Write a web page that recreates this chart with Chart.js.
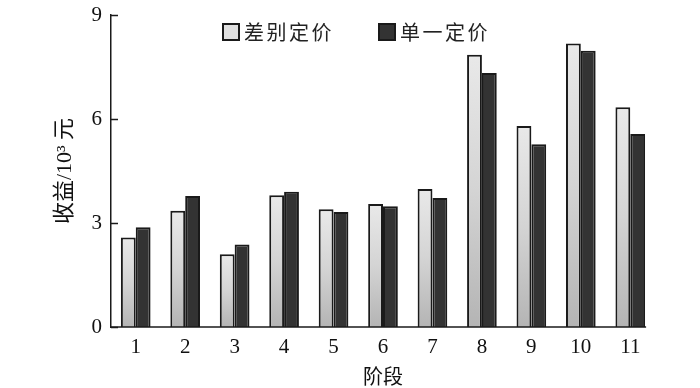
<!DOCTYPE html>
<html>
<head>
<meta charset="utf-8">
<script src="https://cdn.jsdelivr.net/npm/chart.js@4.4.0/dist/chart.umd.min.js"></script>
<style>
  html, body { margin: 0; padding: 0; background: #fff; }
  #wrap { width: 700px; height: 388px; }
</style>
</head>
<body>
<div id="wrap"><canvas id="chart"></canvas></div>
<script>
// data
const stages = ['1', '2', '3', '4', '5', '6', '7', '8', '9', '10', '11'];
const diffPrice = [2.58, 3.35, 2.10, 3.80, 3.40, 3.55, 3.98, 7.85, 5.80, 8.18, 6.34];
const singlePrice = [2.88, 3.78, 2.38, 3.90, 3.32, 3.48, 3.72, 7.33, 5.27, 7.97, 5.57];
const yTicks = [0, 3, 6, 9];

const serif = '"Liberation Serif", "Noto Sans CJK SC", serif';

// light bars fade from pale at the top to mid grey at the base
function lightFill(ctx) {
  const chart = ctx.chart;
  const y = chart.scales.y;
  if (!chart.chartArea || !y || ctx.raw == null) return '#d6d6d6';
  const top = y.getPixelForValue(ctx.raw);
  const g = chart.ctx.createLinearGradient(0, top, 0, y.getPixelForValue(0));
  g.addColorStop(0, '#e9e9e9');
  g.addColorStop(0.5, '#d4d4d4');
  g.addColorStop(1, '#b4b4b4');
  return g;
}

// axis lines, inward ticks and legend inside the plot
const decor = {
  id: 'decor',
  afterDatasetsDraw(chart) {
    const c = chart.ctx;
    const area = chart.chartArea;
    const y = chart.scales.y;
    c.save();
    c.strokeStyle = '#1a1a1a';
    c.lineWidth = 1.5;
    // x axis line stops at the last bar
    const bars = chart.getDatasetMeta(1).data;
    const last = bars[bars.length - 1];
    const endX = last.x + last.width / 2 + 1;
    c.beginPath();
    c.moveTo(area.left, y.getPixelForValue(0));
    c.lineTo(endX, y.getPixelForValue(0));
    c.stroke();
    // y axis ticks pointing in
    yTicks.forEach(v => {
      const py = Math.round(y.getPixelForValue(v)) + 0.5;
      c.beginPath();
      c.moveTo(area.left, py);
      c.lineTo(area.left + 7, py);
      c.stroke();
    });
    // legend
    const items = [
      { label: chart.data.datasets[0].label, fill: '#e0e0e0', x: 223 },
      { label: chart.data.datasets[1].label, fill: '#333333', x: 379 }
    ];
    c.font = '20px "Noto Sans CJK SC", sans-serif';
    c.textBaseline = 'middle';
    c.textAlign = 'left';
    if ('letterSpacing' in c) c.letterSpacing = '2.5px';
    items.forEach(it => {
      c.fillStyle = it.fill;
      c.lineWidth = 2;
      c.fillRect(it.x, 24, 16, 16);
      c.strokeRect(it.x, 24, 16, 16);
      c.fillStyle = '#222';
      c.fillText(it.label, it.x + 21, 32);
    });
    c.restore();
  }
};

new Chart(document.getElementById('chart'), {
  type: 'bar',
  data: {
    labels: stages,
    datasets: [
      {
        label: '差别定价',
        data: diffPrice,
        backgroundColor: lightFill,
        borderColor: '#1a1a1a',
        borderWidth: 2
      },
      {
        label: '单一定价',
        data: singlePrice,
        backgroundColor: '#333333',
        borderColor: '#1a1a1a',
        borderWidth: 2
      }
    ]
  },
  options: {
    responsive: true,
    maintainAspectRatio: false,
    animation: false,
    layout: { padding: { top: 15, right: 45, left: 0, bottom: 0 } },
    datasets: {
      bar: { categoryPercentage: 0.6, barPercentage: 1.0 }
    },
    plugins: {
      legend: { display: false },
      tooltip: { enabled: false }
    },
    scales: {
      x: {
        grid: { display: false, drawTicks: false },
        border: { display: false },
        ticks: { color: '#111', padding: 8, font: { family: serif, size: 21 } },
        title: {
          display: true,
          text: '阶段',
          color: '#111',
          padding: { top: 0, bottom: 0 },
          font: { family: '"Noto Sans CJK SC", sans-serif', size: 20 }
        },
        afterFit(s) { s.height = 61; s.paddingLeft = 0; s.paddingRight = 0; }
      },
      y: {
        min: 0,
        max: 9,
        afterBuildTicks(s) { s.ticks = yTicks.map(v => ({ value: v })); },
        grid: { display: false, drawTicks: false },
        border: { display: true, color: '#1a1a1a', width: 1.5 },
        ticks: { color: '#111', padding: 9, font: { family: serif, size: 21 } },
        title: {
          display: true,
          text: '收益/10³ 元',
          color: '#111',
          padding: { top: 52, bottom: 0 },
          font: { family: serif, size: 22 }
        },
        afterFit(s) { s.width = 111; s.paddingTop = 0; s.paddingBottom = 0; }
      }
    }
  },
  plugins: [decor]
});
</script>
</body>
</html>
